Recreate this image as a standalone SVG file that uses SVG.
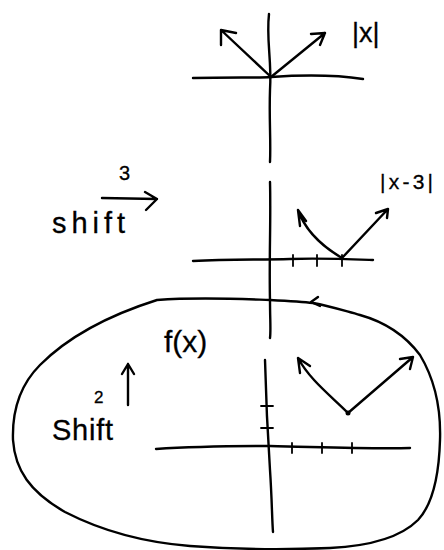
<svg xmlns="http://www.w3.org/2000/svg" width="444" height="550" viewBox="0 0 444 550">
<style>
.s{fill:none;stroke:#000;stroke-width:2.4;stroke-linecap:round;stroke-linejoin:round}
.t{stroke-width:1.8}
.h{font-family:"Liberation Sans",Arial,sans-serif;fill:#000;stroke:#000;stroke-width:0.3}
</style>
<rect width="444" height="550" fill="#fff"/>
<!-- top graph |x| -->
<g id="graph-abs">
<path class="s" d="M269,14 C266,40 272,60 270,90 C269,120 271,140 270,162"/>
<path class="s" d="M193,78 C230,77 260,78 271,77 C300,75 330,74 363,79"/>
<path class="s" d="M271,77 L221,30 M221,30 L221,45 M221,30 L236,33"/>
<path class="s" d="M271,77 L325,33 M325,33 L311,34 M325,33 L320,45"/>
<text class="h" x="352" y="42" font-size="27">|x|</text>
</g>
<!-- shift 3 right -->
<g id="shift-right">
<text class="h" x="119" y="180" font-size="20">3</text>
<path class="s" d="M102,198 L157,199 M145,192 L157,199 L146,210"/>
<text class="h" x="52" y="233" font-size="29" textLength="73" lengthAdjust="spacing">shift</text>
</g>
<!-- middle graph |x-3| -->
<g id="graph-shifted">
<path class="s" d="M270,182 C271,220 269,260 270,300 C270,320 271,330 270,338"/>
<path class="s" d="M193,261 C230,259 260,260 290,259 C320,258 345,259 373,260"/>
<path class="s t" d="M293,255 L293,266 M317,255 L317,266 M342,255 L342,266"/>
<path class="s" d="M342,258 C320,245 305,230 298,210 M298,210 L300,226 M298,210 L306,221"/>
<path class="s" d="M342,258 L388,209 M388,209 L376,213 M388,209 L387,218"/>
<text class="h" x="380" y="189" font-size="21" textLength="53" lengthAdjust="spacing">|x-3|</text>
</g>
<!-- blob f(x) -->
<g id="region-fx">
<path class="s" d="M157,300 C200,297 240,299 270,300 C290,301 305,302 313,303 C330,306 345,311 360,315 C385,322 405,335 420,355 C435,380 441,410 440,440 C439,475 432,505 418,520 C400,538 370,546 330,548 C280,550 230,549 190,546 C140,542 100,530 65,512 C30,492 15,470 13,440 C12,410 20,385 40,365 C65,340 100,318 157,300 Z"/>
<path class="s" d="M320,306 L311,302 L318,297"/>
<text class="h" x="164" y="352" font-size="30">f(x)</text>
</g>
<!-- shift 2 up -->
<g id="shift-up">
<path class="s" d="M128,405 L128,364 M122,374 L128,364 L134,374"/>
<text class="h" x="94" y="403" font-size="17">2</text>
<text class="h" x="52" y="440" font-size="29" textLength="61" lengthAdjust="spacing">Shift</text>
</g>
<!-- bottom graph -->
<g id="graph-final">
<path class="s" d="M265,360 C266,400 268,440 270,470 C272,500 272,520 273,532"/>
<path class="s" d="M156,449 C200,446 240,446 270,446 C320,447 370,449 410,448"/>
<path class="s t" d="M261,406 L273,406 M261,428 L273,428"/>
<path class="s t" d="M292,443 L292,453 M322,443 L322,453 M352,443 L352,453"/>
<path class="s" d="M348,413 C330,395 310,380 298,358 M298,358 L300,373 M298,358 L310,366"/>
<path class="s" d="M348,413 L413,357 M413,357 L400,359 M413,357 L410,369"/>
<circle cx="348" cy="413" r="2.5" fill="#000"/>
</g>
</svg>
